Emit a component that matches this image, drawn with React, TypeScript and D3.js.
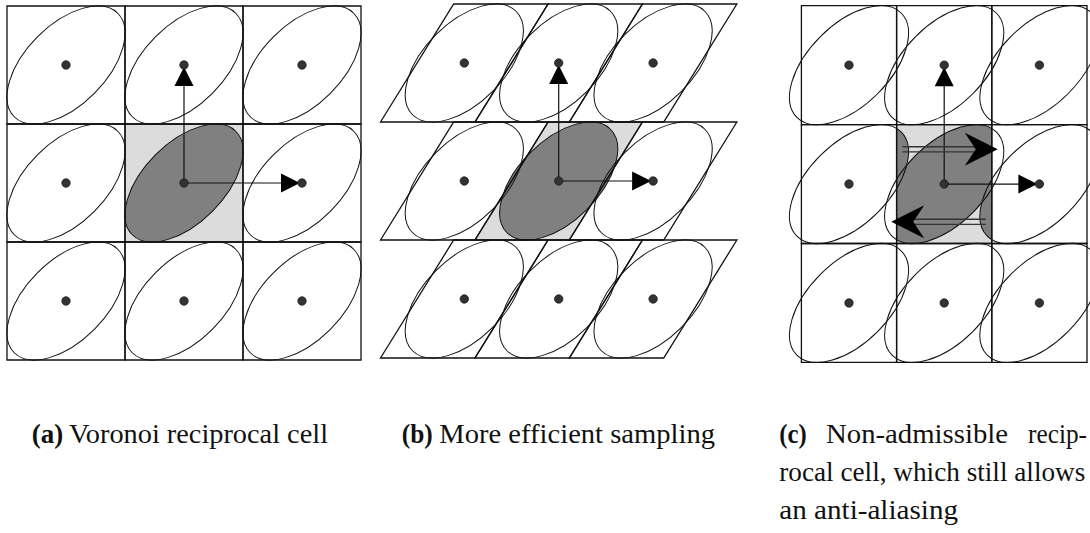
import React from 'react';
import * as d3 from 'd3';

// lattice indices (columns / rows) around the central sample
const latticeIdx = [-1, 0, 1];

// per panel: horizontal sampling period and shear of the reciprocal cell (lattice units)
const periodX = [1, 0.8, 0.8];
const cellShear = [0, 0.62, 0];

// spectrum support: ellipse semi-axes (lattice units) and tilt in degrees
const ellipseAxes = [0.62, 0.34];
const ellipseTilt = 45;

// panel (c): neighbours that alias into the admissible cell
const aliasShift = [-0.8, 0, 0.8];
// panel (c): wrap-around arrows (start x, tip x, y) in lattice units
const wrapFrom = [-0.35, 0.35];
const wrapTo = [0.45, -0.445];
const wrapY = [-0.292, 0.318];

const captionLabels = ['(a)', '(b)', '(c)'];
const captionTexts = ['Voronoi reciprocal cell', 'More efficient sampling'];
const captionCLines = ['Non-admissible', 'recip-', 'rocal cell, which still allows', 'an anti-aliasing'];

type P = [number, number];

const W = 1090;
const H = 533;

// layout of each panel in pixels
const panelCenterX = [184, 558.7, 944.2];
const panelUnitX = [118, 118, 119];
const panelYRange: P[] = [[6, 360], [4, 358], [5.7, 362.4]];

const LIGHT = '#dcdcdc';
const DARK = '#808080';
const INK = '#111';

function Panel({ p }: { p: number }) {
  const x = d3.scaleLinear().domain([0, 1]).range([panelCenterX[p], panelCenterX[p] + panelUnitX[p]]);
  const y = d3.scaleLinear().domain([-1.5, 1.5]).range(panelYRange[p]);
  const ux = x(1) - x(0);
  const uy = y(1) - y(0);
  const px = periodX[p];
  const s = cellShear[p];
  const rx = ellipseAxes[0] * (ux + uy) / 2;
  const ry = ellipseAxes[1] * (ux + uy) / 2;

  const cellPts = (cx: number, cy: number): P[] => [
    [x(cx - px / 2 + s / 2), y(cy - 0.5)],
    [x(cx + px / 2 + s / 2), y(cy - 0.5)],
    [x(cx + px / 2 - s / 2), y(cy + 0.5)],
    [x(cx - px / 2 - s / 2), y(cy + 0.5)],
  ];
  const poly = (pts: P[]) => d3.line()(pts)! + 'Z';

  const cells: P[] = [];
  latticeIdx.forEach((j) => latticeIdx.forEach((i) => cells.push([i * px, j])));

  const ell = (cx: number, cy: number, key: string, props: any) => (
    <ellipse
      key={key}
      cx={x(cx)}
      cy={y(cy)}
      rx={rx}
      ry={ry}
      transform={`rotate(${-ellipseTilt} ${x(cx)} ${y(cy)})`}
      {...props}
    />
  );

  const c0: P = [x(0), y(0)];
  const arrowHead = (tip: P, dir: P) => {
    const L = 19;
    const hw = 9.5;
    const t: P = [tip[0] - dir[0] * 2, tip[1] - dir[1] * 2];
    const b: P = [t[0] - dir[0] * L, t[1] - dir[1] * L];
    const n: P = [-dir[1], dir[0]];
    return poly([t, [b[0] + n[0] * hw, b[1] + n[1] * hw], [b[0] - n[0] * hw, b[1] - n[1] * hw]]);
  };
  const upTip: P = [x(0), y(-1)];
  const rightTip: P = [x(px), y(0)];

  const clipId = `clip-${p}`;

  return (
    <g>
      {/* reciprocal cell */}
      <path d={poly(cellPts(0, 0))} fill={LIGHT} />
      {p === 2 ? (
        <g>
          <defs>
            <clipPath id={clipId}>
              <path d={poly(cellPts(0, 0))} />
            </clipPath>
          </defs>
          <g clipPath={`url(#${clipId})`}>
            {aliasShift.map((d, k) => ell(d, 0, `al${k}`, { fill: DARK }))}
          </g>
        </g>
      ) : (
        ell(0, 0, 'dark', { fill: DARK })
      )}

      {/* lattice cells */}
      {cells.map(([cx, cy], k) => (
        <path key={`c${k}`} d={poly(cellPts(cx, cy))} fill="none" stroke={INK} strokeWidth={1.3} />
      ))}

      {/* spectra */}
      {cells.map(([cx, cy], k) => ell(cx, cy, `e${k}`, { fill: 'none', stroke: INK, strokeWidth: 1 }))}

      {/* basis vectors */}
      <line x1={c0[0]} y1={c0[1]} x2={upTip[0]} y2={upTip[1] + 20} stroke={INK} strokeWidth={1.2} />
      <line x1={c0[0]} y1={c0[1]} x2={rightTip[0] - 20} y2={rightTip[1]} stroke={INK} strokeWidth={1.2} />
      <path d={arrowHead(upTip, [0, -1])} fill="#000" />
      <path d={arrowHead(rightTip, [1, 0])} fill="#000" />

      {/* wrap-around arrows for the non-admissible cell */}
      {p === 2 &&
        wrapFrom.map((f, k) => {
          const yy = y(wrapY[k]);
          const x0 = x(f);
          const tipX = x(wrapTo[k]);
          const dir = Math.sign(tipX - x0);
          const L = 33;
          const hw = 16.5;
          const notchX = tipX - dir * 22;
          return (
            <g key={`w${k}`}>
              <line x1={x0} y1={yy - 2.6} x2={notchX} y2={yy - 2.6} stroke="#333" strokeWidth={1.3} />
              <line x1={x0} y1={yy + 2.6} x2={notchX} y2={yy + 2.6} stroke="#333" strokeWidth={1.3} />
              <path
                d={poly([
                  [tipX, yy],
                  [tipX - dir * L, yy - hw],
                  [notchX, yy],
                  [tipX - dir * L, yy + hw],
                ])}
                fill="#000"
              />
            </g>
          );
        })}

      {/* samples */}
      {cells.map(([cx, cy], k) => (
        <circle key={`d${k}`} cx={x(cx)} cy={y(cy)} r={4.2} fill="#333" stroke="#1a1a1a" strokeWidth={0.8} />
      ))}
    </g>
  );
}

const capFont = '"Liberation Serif", "Times New Roman", serif';
const capSize = 28;

function Caption({ x, y, label, text, labelLen, textX, textLen }: any) {
  return (
    <g fontFamily={capFont} fontSize={capSize} fill="#111">
      <text x={x} y={y} fontWeight="bold" textLength={labelLen} lengthAdjust="spacingAndGlyphs">
        {label}
      </text>
      <text x={textX} y={y} textLength={textLen} lengthAdjust="spacingAndGlyphs">
        {text}
      </text>
    </g>
  );
}

export default function App() {
  return (
    <svg
      width={W}
      height={H}
      viewBox={`0 0 ${W} ${H}`}
      style={{ position: 'absolute', left: 0, top: 0, background: '#fff' }}
    >
      {[0, 1, 2].map((p) => (
        <Panel key={p} p={p} />
      ))}

      <Caption x={31.7} y={443} label={captionLabels[0]} labelLen={31.5} text={captionTexts[0]} textX={69} textLen={259} />
      <Caption x={401.7} y={443} label={captionLabels[1]} labelLen={31} text={captionTexts[1]} textX={439.3} textLen={275.7} />

      <g fontFamily={capFont} fontSize={capSize} fill="#111">
        <text x={779.3} y={443} fontWeight="bold" textLength={27.4} lengthAdjust="spacingAndGlyphs">
          {captionLabels[2]}
        </text>
        <text x={826} y={443} textLength={182} lengthAdjust="spacingAndGlyphs">
          {captionCLines[0]}
        </text>
        <text x={1028} y={443} textLength={59} lengthAdjust="spacingAndGlyphs">
          {captionCLines[1]}
        </text>
        <text x={779.3} y={481.3} textLength={306} lengthAdjust="spacingAndGlyphs">
          {captionCLines[2]}
        </text>
        <text x={779.3} y={518.5} textLength={178.7} lengthAdjust="spacingAndGlyphs">
          {captionCLines[3]}
        </text>
      </g>
    </svg>
  );
}
